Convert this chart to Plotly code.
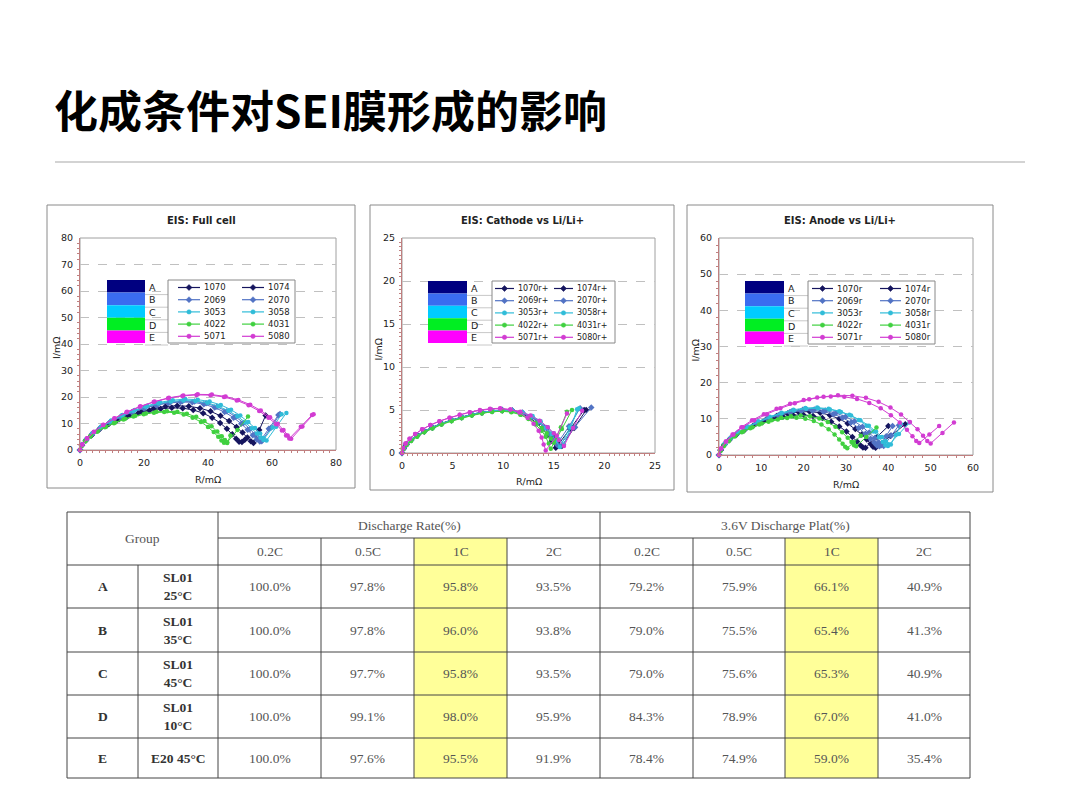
import plotly.graph_objects as go

W, H = 1080, 809


def px(x):
    return x / W


def py(y):
    return 1 - y / H


TITLE = "化成条件对SEI膜形成的影响"

# ---- EIS data ----
NAMES = ["1070", "1074", "2069", "2070", "3053", "3058", "4022", "4031", "5071", "5080"]
GROUP_OF = ["A", "A", "B", "B", "C", "C", "D", "D", "E", "E"]
GROUPS = ["A", "B", "C", "D", "E"]

FULL_R = {
    "1070": [0, 0.6, 1.8, 3.5, 5.8, 8.5, 11.5, 14.8, 18.2, 21.7, 25.2, 28.7, 32.1, 35.4, 38.5, 41.3, 43.8, 45.9, 47.6, 48.8, 49.7, 50.6, 51.5],
    "1074": [0, 0.6, 1.9, 3.7, 6.1, 9.0, 12.2, 15.7, 19.3, 23.0, 26.7, 30.4, 34.0, 37.5, 40.8, 43.9, 46.6, 48.9, 50.8, 52.3, 53.4, 54.2, 56.0, 58.0],
    "2069": [0, 0.6, 1.9, 3.8, 6.3, 9.3, 12.6, 16.2, 20.0, 23.8, 27.6, 31.4, 35.1, 38.7, 42.1, 45.2, 48.0, 50.4, 52.4, 54.0, 55.2, 56.2, 59.0, 62.0],
    "2070": [0, 0.6, 2.0, 3.9, 6.4, 9.5, 12.9, 16.6, 20.4, 24.3, 28.2, 32.0, 35.8, 39.4, 42.8, 45.9, 48.7, 51.1, 53.1, 54.7, 55.9, 56.8, 59.6, 62.5],
    "3053": [0, 0.6, 2.0, 4.0, 6.6, 9.8, 13.3, 17.1, 21.0, 25.0, 29.0, 32.9, 36.8, 40.5, 44.0, 47.2, 50.1, 52.6, 54.7, 56.3, 57.4, 58.3, 61.3, 64.5],
    "3058": [0, 0.6, 2.0, 3.9, 6.5, 9.6, 13.0, 16.7, 20.6, 24.5, 28.4, 32.3, 36.1, 39.8, 43.2, 46.4, 49.2, 51.7, 53.7, 55.3, 56.4, 57.3, 60.2, 63.0],
    "4022": [0, 0.5, 1.6, 3.2, 5.3, 7.8, 10.6, 13.6, 16.7, 19.9, 23.1, 26.3, 29.4, 32.4, 35.2, 37.8, 40.0, 41.8, 43.2, 44.2, 45.0, 46.0, 47.0],
    "4031": [0, 0.5, 1.7, 3.3, 5.5, 8.1, 11.0, 14.1, 17.3, 20.6, 23.9, 27.2, 30.4, 33.4, 36.3, 38.9, 41.1, 42.9, 44.3, 45.3, 46.0, 49.2, 52.5],
    "5071": [0, 0.7, 2.2, 4.4, 7.3, 10.8, 14.7, 18.9, 23.3, 27.8, 32.3, 36.8, 41.2, 45.5, 49.5, 53.2, 56.5, 59.4, 61.8, 63.6, 64.9, 66.0, 69.5, 73.0],
    "5080": [0, 0.7, 2.2, 4.3, 7.2, 10.7, 14.5, 18.7, 23.0, 27.5, 32.0, 36.4, 40.8, 45.0, 49.0, 52.7, 56.0, 58.9, 61.3, 63.1, 64.4, 65.4, 69.0, 72.5],
}
FULL_I = {
    "1070": [0, 1.8, 3.6, 5.5, 7.5, 9.4, 11.1, 12.6, 13.9, 14.9, 15.6, 15.9, 15.8, 15.1, 13.9, 12.2, 10.2, 8.0, 5.9, 4.2, 3.1, 3.0, 3.9],
    "1074": [0, 1.8, 3.7, 5.7, 7.8, 9.8, 11.6, 13.2, 14.6, 15.7, 16.4, 16.7, 16.5, 15.8, 14.6, 12.9, 10.9, 8.7, 6.6, 4.7, 3.3, 2.6, 7.5, 13.0],
    "2069": [0, 1.9, 3.9, 6.0, 8.2, 10.4, 12.4, 14.2, 15.7, 16.9, 17.7, 18.1, 18.0, 17.3, 16.0, 14.3, 12.2, 9.9, 7.6, 5.6, 4.0, 3.2, 8.0, 13.2],
    "2070": [0, 1.9, 4.0, 6.2, 8.5, 10.7, 12.7, 14.5, 16.0, 17.2, 18.0, 18.4, 18.3, 17.6, 16.3, 14.6, 12.5, 10.2, 7.9, 5.8, 4.2, 3.3, 8.3, 13.6],
    "3053": [0, 2.0, 4.1, 6.4, 8.8, 11.1, 13.2, 15.1, 16.7, 18.0, 18.8, 19.2, 19.0, 18.3, 17.0, 15.2, 13.0, 10.6, 8.3, 6.2, 4.5, 3.6, 8.8, 14.0],
    "3058": [0, 1.9, 4.0, 6.3, 8.6, 10.8, 12.9, 14.7, 16.3, 17.5, 18.3, 18.7, 18.5, 17.8, 16.5, 14.8, 12.7, 10.4, 8.2, 6.2, 4.6, 3.8, 8.5, 13.5],
    "4022": [0, 1.6, 3.3, 5.1, 6.9, 8.6, 10.1, 11.5, 12.6, 13.5, 14.1, 14.3, 14.1, 13.4, 12.2, 10.6, 8.7, 6.8, 5.0, 3.6, 2.7, 2.6, 5.5],
    "4031": [0, 1.6, 3.4, 5.2, 7.1, 8.8, 10.4, 11.8, 12.9, 13.8, 14.4, 14.6, 14.4, 13.7, 12.5, 10.9, 9.0, 7.0, 5.2, 3.8, 2.9, 7.5, 12.6],
    "5071": [0, 2.1, 4.4, 6.9, 9.5, 12.0, 14.4, 16.5, 18.3, 19.7, 20.6, 21.0, 20.9, 20.2, 18.9, 17.1, 14.9, 12.4, 9.9, 7.5, 5.5, 4.2, 8.9, 13.5],
    "5080": [0, 2.1, 4.3, 6.8, 9.4, 11.9, 14.2, 16.3, 18.1, 19.5, 20.4, 20.8, 20.7, 20.0, 18.7, 16.9, 14.7, 12.2, 9.7, 7.4, 5.5, 4.3, 8.8, 13.2],
}

CATH_R = {
    "1070": [0, 0.15, 0.45, 0.9, 1.5, 2.2, 3.0, 3.9, 4.9, 5.9, 6.9, 7.9, 8.9, 9.9, 10.9, 11.8, 12.6, 13.3, 13.9, 14.4, 14.8, 15.2, 16.6, 18.0],
    "1074": [0, 0.15, 0.45, 0.9, 1.5, 2.2, 3.0, 3.9, 4.9, 5.9, 6.9, 7.9, 8.9, 9.9, 10.9, 11.9, 12.8, 13.6, 14.3, 14.9, 15.4, 15.8, 17.0, 18.2],
    "2069": [0, 0.15, 0.45, 0.9, 1.5, 2.2, 3.0, 3.9, 4.9, 5.9, 6.9, 7.9, 8.9, 9.9, 10.9, 11.9, 12.8, 13.5, 14.1, 14.6, 15.1, 15.5, 17.1, 18.7],
    "2070": [0, 0.15, 0.45, 0.9, 1.5, 2.2, 3.0, 3.9, 4.9, 5.9, 6.9, 7.9, 8.9, 9.9, 10.9, 11.8, 12.7, 13.4, 14.0, 14.5, 14.9, 15.3, 16.5, 17.6],
    "3053": [0, 0.15, 0.45, 0.9, 1.5, 2.2, 3.0, 3.9, 4.9, 5.9, 6.9, 7.9, 8.9, 9.9, 10.9, 11.9, 12.8, 13.6, 14.2, 14.8, 15.2, 15.6, 16.6, 17.5],
    "3058": [0, 0.15, 0.45, 0.9, 1.5, 2.2, 3.0, 3.9, 4.9, 5.9, 6.9, 7.9, 8.9, 9.9, 10.9, 11.9, 12.9, 13.7, 14.4, 15.0, 15.5, 16.0, 16.7, 17.3],
    "4022": [0, 0.15, 0.45, 0.9, 1.5, 2.2, 3.0, 3.9, 4.9, 5.9, 6.9, 7.9, 8.9, 9.9, 10.8, 11.7, 12.5, 13.2, 13.8, 14.2, 14.5, 14.7, 15.8, 16.8],
    "4031": [0, 0.15, 0.45, 0.9, 1.5, 2.2, 3.0, 3.9, 4.9, 5.9, 6.9, 7.9, 8.9, 9.9, 10.8, 11.7, 12.5, 13.2, 13.8, 14.3, 14.7, 15.0, 15.7, 16.3],
    "5071": [0, 0.1, 0.35, 0.75, 1.3, 2.0, 2.8, 3.7, 4.7, 5.7, 6.7, 7.7, 8.7, 9.7, 10.7, 11.6, 12.4, 13.0, 13.5, 13.8, 14.0, 14.2, 15.3, 16.3],
    "5080": [0, 0.1, 0.35, 0.75, 1.3, 2.0, 2.8, 3.7, 4.7, 5.7, 6.7, 7.7, 8.7, 9.7, 10.7, 11.7, 12.7, 13.6, 14.4, 15.0, 15.5, 16.0, 16.9, 17.8],
}
CATH_I = {
    "1070": [0, 0.55, 1.05, 1.55, 2.05, 2.55, 3.0, 3.45, 3.85, 4.2, 4.5, 4.75, 4.9, 5.0, 4.9, 4.6, 4.1, 3.5, 2.8, 2.1, 1.4, 0.6, 2.8, 5.0],
    "1074": [0, 0.5, 1.0, 1.5, 2.0, 2.5, 2.95, 3.4, 3.8, 4.15, 4.45, 4.7, 4.85, 4.95, 4.9, 4.65, 4.2, 3.6, 2.9, 2.1, 1.4, 0.8, 2.9, 5.0],
    "2069": [0, 0.5, 1.0, 1.5, 2.0, 2.5, 2.95, 3.4, 3.8, 4.15, 4.5, 4.75, 4.9, 5.0, 4.95, 4.7, 4.2, 3.6, 2.9, 2.2, 1.4, 0.8, 3.0, 5.3],
    "2070": [0, 0.5, 1.0, 1.5, 2.0, 2.5, 3.0, 3.4, 3.8, 4.15, 4.45, 4.7, 4.9, 5.0, 4.9, 4.65, 4.2, 3.6, 3.0, 2.3, 1.6, 1.0, 3.1, 5.2],
    "3053": [0, 0.5, 1.0, 1.5, 2.0, 2.5, 2.95, 3.4, 3.8, 4.15, 4.45, 4.7, 4.9, 5.0, 4.95, 4.7, 4.25, 3.65, 2.95, 2.2, 1.4, 0.7, 3.0, 5.2],
    "3058": [0, 0.5, 1.0, 1.5, 2.0, 2.5, 2.95, 3.4, 3.8, 4.15, 4.45, 4.7, 4.85, 4.95, 4.9, 4.7, 4.3, 3.7, 3.0, 2.3, 1.6, 1.0, 3.0, 5.1],
    "4022": [0, 0.5, 0.95, 1.4, 1.9, 2.4, 2.85, 3.3, 3.7, 4.05, 4.35, 4.6, 4.8, 4.85, 4.75, 4.45, 3.95, 3.3, 2.6, 1.9, 1.1, 0.5, 2.8, 5.0],
    "4031": [0, 0.5, 0.95, 1.45, 1.95, 2.45, 2.9, 3.35, 3.75, 4.1, 4.4, 4.65, 4.8, 4.9, 4.8, 4.5, 4.05, 3.5, 2.9, 2.3, 1.7, 1.2, 3.0, 4.8],
    "5071": [0, 0.55, 1.1, 1.65, 2.2, 2.75, 3.25, 3.7, 4.1, 4.45, 4.75, 5.0, 5.15, 5.2, 5.05, 4.7, 4.1, 3.4, 2.6, 1.8, 1.0, 0.3, 2.0, 4.6],
    "5080": [0, 0.55, 1.1, 1.65, 2.2, 2.75, 3.25, 3.7, 4.1, 4.45, 4.75, 4.95, 5.1, 5.15, 5.05, 4.8, 4.35, 3.75, 3.0, 2.3, 1.5, 0.8, 2.9, 4.9],
}

ANODE_R = {
    "1070": [0, 0.4, 1.2, 2.4, 4.0, 5.9, 8.0, 10.3, 12.7, 15.1, 17.5, 19.9, 22.2, 24.4, 26.5, 28.4, 30.1, 31.5, 32.6, 33.4, 34.0, 34.6, 37.3, 40.0],
    "1074": [0, 0.4, 1.3, 2.6, 4.3, 6.3, 8.6, 11.1, 13.6, 16.2, 18.8, 21.4, 23.9, 26.2, 28.4, 30.4, 32.2, 33.7, 34.9, 35.8, 36.4, 37.0, 40.5, 44.0],
    "2069": [0, 0.4, 1.3, 2.6, 4.4, 6.5, 8.9, 11.4, 14.0, 16.7, 19.4, 22.0, 24.6, 27.0, 29.2, 31.2, 33.0, 34.6, 35.8, 36.7, 37.3, 37.9, 39.5, 41.0],
    "2070": [0, 0.4, 1.3, 2.7, 4.5, 6.7, 9.1, 11.7, 14.4, 17.1, 19.8, 22.5, 25.1, 27.6, 29.9, 32.0, 33.9, 35.5, 36.8, 37.7, 38.3, 38.9, 40.7, 42.5],
    "3053": [0, 0.4, 1.4, 2.8, 4.6, 6.8, 9.3, 12.0, 14.8, 17.6, 20.4, 23.2, 25.9, 28.4, 30.8, 33.0, 34.9, 36.5, 37.8, 38.7, 39.3, 39.9, 42.5, 45.0],
    "3058": [0, 0.4, 1.4, 2.8, 4.6, 6.8, 9.3, 12.0, 14.8, 17.7, 20.6, 23.4, 26.2, 28.8, 31.2, 33.4, 35.4, 37.1, 38.5, 39.4, 40.0, 40.6, 41.8, 43.0],
    "4022": [0, 0.4, 1.1, 2.2, 3.7, 5.4, 7.4, 9.5, 11.7, 13.9, 16.1, 18.3, 20.4, 22.4, 24.2, 25.9, 27.3, 28.4, 29.2, 29.8, 30.3, 31.8, 33.5],
    "4031": [0, 0.4, 1.2, 2.4, 3.9, 5.8, 7.9, 10.1, 12.4, 14.7, 17.0, 19.3, 21.5, 23.7, 25.7, 27.5, 29.1, 30.4, 31.3, 31.9, 32.4, 34.8, 37.2],
    "5071": [0, 0.5, 1.6, 3.2, 5.3, 7.8, 10.6, 13.6, 16.8, 20.0, 23.2, 26.4, 29.6, 32.6, 35.5, 38.2, 40.6, 42.7, 44.4, 45.7, 46.6, 47.3, 49.7, 52.0],
    "5080": [0, 0.5, 1.7, 3.4, 5.6, 8.3, 11.3, 14.5, 17.9, 21.3, 24.7, 28.1, 31.5, 34.7, 37.7, 40.5, 43.0, 45.1, 46.9, 48.2, 49.2, 50.0, 52.8, 55.5],
}
ANODE_I = {
    "1070": [0, 1.3, 2.7, 4.1, 5.5, 6.8, 8.0, 9.1, 10.0, 10.6, 11.0, 11.1, 10.8, 10.2, 9.2, 7.9, 6.5, 5.0, 3.7, 2.7, 2.1, 2.0, 5.0, 8.0],
    "1074": [0, 1.4, 2.9, 4.4, 5.9, 7.3, 8.6, 9.8, 10.8, 11.5, 11.9, 12.0, 11.7, 11.0, 10.0, 8.7, 7.2, 5.7, 4.3, 3.1, 2.3, 2.0, 5.3, 8.5],
    "2069": [0, 1.4, 3.0, 4.5, 6.0, 7.5, 8.8, 10.0, 11.0, 11.8, 12.2, 12.3, 12.0, 11.3, 10.3, 9.0, 7.5, 5.9, 4.5, 3.4, 2.6, 2.4, 5.2, 8.0],
    "2070": [0, 1.4, 3.0, 4.6, 6.2, 7.7, 9.0, 10.2, 11.2, 12.0, 12.5, 12.6, 12.3, 11.6, 10.6, 9.3, 7.8, 6.2, 4.7, 3.5, 2.7, 2.5, 5.4, 8.2],
    "3053": [0, 1.5, 3.1, 4.7, 6.3, 7.9, 9.3, 10.6, 11.7, 12.5, 13.0, 13.1, 12.8, 12.1, 11.1, 9.7, 8.1, 6.5, 4.9, 3.6, 2.7, 2.5, 5.8, 9.0],
    "3058": [0, 1.4, 3.0, 4.6, 6.2, 7.7, 9.1, 10.4, 11.5, 12.3, 12.8, 12.9, 12.6, 11.9, 10.9, 9.6, 8.1, 6.5, 5.0, 3.8, 3.0, 2.9, 5.6, 8.5],
    "4022": [0, 1.2, 2.5, 3.8, 5.1, 6.3, 7.4, 8.4, 9.2, 9.8, 10.2, 10.3, 10.0, 9.4, 8.4, 7.1, 5.7, 4.3, 3.1, 2.3, 1.9, 3.5, 5.3],
    "4031": [0, 1.3, 2.6, 4.0, 5.3, 6.6, 7.7, 8.7, 9.6, 10.3, 10.7, 10.9, 10.7, 10.1, 9.1, 7.8, 6.3, 4.8, 3.6, 2.7, 2.4, 5.0, 7.6],
    "5071": [0, 1.8, 3.7, 5.7, 7.7, 9.6, 11.3, 12.8, 14.2, 15.2, 15.9, 16.2, 16.1, 15.5, 14.4, 12.9, 11.0, 9.0, 7.0, 5.2, 3.9, 3.3, 5.7, 8.0],
    "5080": [0, 1.8, 3.7, 5.7, 7.7, 9.6, 11.3, 12.9, 14.3, 15.4, 16.1, 16.5, 16.4, 15.8, 14.7, 13.1, 11.2, 9.1, 7.1, 5.3, 3.9, 3.2, 6.1, 9.0],
}

CHART_TITLES = ["EIS: Full cell", "EIS: Cathode vs Li/Li+", "EIS: Anode vs Li/Li+"]
SUFFIXES = ["", "r+", "r"]
CHART_DATA = [(FULL_R, FULL_I), (CATH_R, CATH_I), (ANODE_R, ANODE_I)]

# ---- table data ----
ROW_LABELS = ["A", "B", "C", "D", "E"]
CONDITIONS = ["SL01<br>25°C", "SL01<br>35°C", "SL01<br>45°C", "SL01<br>10°C", "E20 45°C"]
RATES = ["0.2C", "0.5C", "1C", "2C"]
DISCHARGE_RATE = [
    [100.0, 97.8, 95.8, 93.5],
    [100.0, 97.8, 96.0, 93.8],
    [100.0, 97.7, 95.8, 93.5],
    [100.0, 99.1, 98.0, 95.9],
    [100.0, 97.6, 95.5, 91.9],
]
DISCHARGE_PLAT = [
    [79.2, 75.9, 66.1, 40.9],
    [79.0, 75.5, 65.4, 41.3],
    [79.0, 75.6, 65.3, 40.9],
    [84.3, 78.9, 67.0, 41.0],
    [78.4, 74.9, 59.0, 35.4],
]

# ---- styling ----
LINE_COLOR = {"A": "#15155e", "B": "#5273c4", "C": "#30bcd8", "D": "#40d040", "E": "#d23cd2"}
BLOCK_COLOR = {"A": "#000080", "B": "#3a6cf0", "C": "#00ccff", "D": "#00ee22", "E": "#ff00ff"}
SYMBOL = {"A": "diamond", "B": "diamond", "C": "circle", "D": "circle", "E": "circle"}
FONT = "DejaVu Sans"
SERIF = "Liberation Serif"

# pixel boxes: panel frame, plot area, legend box, colour blocks, legend column starts
PANELS = [
    dict(frame=(47, 205, 355, 488), plot=(80, 238, 336, 450), rng=80, xdt=20, ydt=10, minor=2,
         leg=(168, 280, 295, 343), blocks=(107, 145), cols=(178, 242), ll=22),
    dict(frame=(370, 205, 674, 490), plot=(402, 238, 655, 453), rng=25, xdt=5, ydt=5, minor=0.5,
         leg=(492, 281, 615, 343), blocks=(428, 467), cols=(495, 554), ll=19),
    dict(frame=(687, 205, 993, 492), plot=(719, 238, 973, 455), rng=60, xdt=10, ydt=10, minor=2,
         leg=(808, 281, 935, 344), blocks=(745, 784), cols=(812, 880), ll=21),
]


def note(text, x, y, size, family=FONT, color="#222", xanchor="center", **kw):
    return dict(text=text, x=px(x), y=py(y), xref="paper", yref="paper", showarrow=False,
                xanchor=xanchor, yanchor="middle", font=dict(family=family, size=size, color=color), **kw)


fig = go.Figure()
shapes = []
annotations = []

for k, p in enumerate(PANELS):
    ax = "" if k == 0 else str(k + 1)
    rdict, idict = CHART_DATA[k]
    for name, g in zip(NAMES, GROUP_OF):
        fig.add_trace(go.Scatter(
            x=rdict[name], y=idict[name], mode="lines+markers",
            name=name + SUFFIXES[k], showlegend=False, cliponaxis=False,
            xaxis="x" + ax, yaxis="y" + ax,
            line=dict(color=LINE_COLOR[g], width=1),
            marker=dict(symbol=SYMBOL[g], size=5 if SYMBOL[g] == "diamond" else 4.5,
                        color=LINE_COLOR[g]),
        ))
    l, t, r, b = p["plot"]
    axis_common = dict(
        range=[0, p["rng"]], showline=True, linecolor="#c08080",
        linewidth=1, zeroline=False, ticks="", ticklabelstandoff=4, automargin=False,
        tickfont=dict(family=FONT, size=9.5, color="#222"),
        minor=dict(dtick=p["minor"], ticks="outside", ticklen=2, tickcolor="#c08080"),
        fixedrange=True,
    )
    fig.update_layout(**{
        "xaxis" + ax: dict(axis_common, dtick=p["xdt"], domain=[px(l), px(r)], anchor="y" + ax,
                           showgrid=False),
        "yaxis" + ax: dict(axis_common, dtick=p["ydt"], domain=[py(b), py(t)], anchor="x" + ax,
                           showgrid=True, gridcolor="#c0c0c0", griddash="dash", gridwidth=1),
    })
    # plot border and panel frame
    shapes.append(dict(type="rect", xref="paper", yref="paper", x0=px(l), x1=px(r), y0=py(b), y1=py(t),
                       line=dict(color="#a0a0a0", width=1), layer="below"))
    fl, ft, fr, fb = p["frame"]
    shapes.append(dict(type="rect", xref="paper", yref="paper", x0=px(fl), x1=px(fr), y0=py(fb), y1=py(ft),
                       line=dict(color="#8a8a8a", width=1)))
    # titles
    annotations.append(note("<b>" + CHART_TITLES[k] + "</b>", (fl + fr) / 2, ft + 15, 10))
    annotations.append(note("R/mΩ", (l + r) / 2, b + 29, 9.5))
    annotations.append(note("I/mΩ", l - 24, (t + b) / 2 + 4, 9.5, textangle=-90))
    # colour blocks A-E
    bl, br = p["blocks"]
    gl, gt, gr, gb = p["leg"]
    row_h = (gb - gt) / len(GROUPS)
    for j, g in enumerate(GROUPS):
        y0 = gt + j * row_h
        shapes.append(dict(type="rect", xref="paper", yref="paper", x0=px(bl), x1=px(br),
                           y0=py(y0 + row_h), y1=py(y0), fillcolor=BLOCK_COLOR[g], line=dict(width=0)))
        shapes.append(dict(type="line", xref="paper", yref="paper", x0=px(br), x1=px(gl),
                           y0=py(y0 + row_h + 2), y1=py(y0 + row_h + 2), line=dict(color="#c8c8c8", width=1)))
        annotations.append(note(g, br + 2, y0 + row_h / 2 + 1, 9.5, xanchor="left"))
    # legend box (two columns)
    shapes.append(dict(type="rect", xref="paper", yref="paper", x0=px(gl), x1=px(gr), y0=py(gb), y1=py(gt),
                       fillcolor="white", line=dict(color="#888", width=1)))
    for i, (name, g) in enumerate(zip(NAMES, GROUP_OF)):
        col, row = i % 2, i // 2
        x0 = p["cols"][col]
        yc = gt + 7.5 + row * 12.2
        c = LINE_COLOR[g]
        shapes.append(dict(type="line", xref="paper", yref="paper", x0=px(x0), x1=px(x0 + p["ll"]),
                           y0=py(yc), y1=py(yc), line=dict(color=c, width=1.2)))
        cx = x0 + p["ll"] / 2
        if SYMBOL[g] == "diamond":
            s = 3
            path = (f"M {px(cx)},{py(yc - s)} L {px(cx + s)},{py(yc)} "
                    f"L {px(cx)},{py(yc + s)} L {px(cx - s)},{py(yc)} Z")
            shapes.append(dict(type="path", xref="paper", yref="paper", path=path,
                               fillcolor=c, line=dict(color=c, width=0.5)))
        else:
            s = 2.2
            shapes.append(dict(type="circle", xref="paper", yref="paper", x0=px(cx - s), x1=px(cx + s),
                               y0=py(yc + s), y1=py(yc - s), fillcolor=c, line=dict(color=c, width=0.5)))
        annotations.append(note(name + SUFFIXES[k], x0 + p["ll"] + 2, yc, 8 if k == 1 else 8.5,
                                xanchor="left"))

# ---- slide title and rule ----
annotations.append(note("<b>" + TITLE + "</b>", 52, 109, 44, family="Noto Sans CJK SC", color="#000",
                        xanchor="left"))
shapes.append(dict(type="line", xref="paper", yref="paper", x0=px(55), x1=px(1025), y0=py(162), y1=py(162),
                   line=dict(color="#c4c4c4", width=1.5)))

# ---- table ----
TCOLS = [67, 138, 218, 321, 414, 507, 600, 693, 785, 878, 970]
TROWS = [512, 538, 565, 608, 652, 695, 738, 778]
TLINE = dict(color="#444", width=1)
YELLOW = "#ffff99"


def hline(y, xa, xb):
    shapes.append(dict(type="line", xref="paper", yref="paper", x0=px(xa), x1=px(xb), y0=py(y), y1=py(y), line=TLINE))


def vline(x, ya, yb):
    shapes.append(dict(type="line", xref="paper", yref="paper", x0=px(x), x1=px(x), y0=py(ya), y1=py(yb), line=TLINE))


def cell_text(text, xc, yc, bold=False, color="#555", size=13.5):
    annotations.append(note(("<b>%s</b>" % text) if bold else text, xc, yc, size, family=SERIF, color=color))


# highlighted 1C columns
for ci in (4, 8):
    shapes.append(dict(type="rect", xref="paper", yref="paper", x0=px(TCOLS[ci]), x1=px(TCOLS[ci + 1]),
                       y0=py(TROWS[-1]), y1=py(TROWS[1]), fillcolor=YELLOW, line=dict(width=0), layer="below"))

hline(TROWS[0], TCOLS[0], TCOLS[-1])
hline(TROWS[1], TCOLS[2], TCOLS[-1])
for y in TROWS[2:]:
    hline(y, TCOLS[0], TCOLS[-1])
for x in (TCOLS[0], TCOLS[2], TCOLS[6], TCOLS[-1]):
    vline(x, TROWS[0], TROWS[-1])
vline(TCOLS[1], TROWS[2], TROWS[-1])
for x in TCOLS[3:6] + TCOLS[7:10]:
    vline(x, TROWS[1], TROWS[-1])

cell_text("Group", (TCOLS[0] + TCOLS[2]) / 2, (TROWS[0] + TROWS[2]) / 2)
cell_text("Discharge Rate(%)", (TCOLS[2] + TCOLS[6]) / 2, (TROWS[0] + TROWS[1]) / 2)
cell_text("3.6V Discharge Plat(%)", (TCOLS[6] + TCOLS[10]) / 2, (TROWS[0] + TROWS[1]) / 2)
for j, rate in enumerate(RATES):
    for base in (2, 6):
        cell_text(rate, (TCOLS[base + j] + TCOLS[base + j + 1]) / 2, (TROWS[1] + TROWS[2]) / 2)

for i, lab in enumerate(ROW_LABELS):
    yc = (TROWS[i + 2] + TROWS[i + 3]) / 2
    cell_text(lab, (TCOLS[0] + TCOLS[1]) / 2, yc, bold=True, color="#333")
    cell_text(CONDITIONS[i], (TCOLS[1] + TCOLS[2]) / 2, yc, bold=True, color="#333")
    for j in range(4):
        cell_text("%.1f%%" % DISCHARGE_RATE[i][j], (TCOLS[2 + j] + TCOLS[3 + j]) / 2, yc)
        cell_text("%.1f%%" % DISCHARGE_PLAT[i][j], (TCOLS[6 + j] + TCOLS[7 + j]) / 2, yc)

fig.update_layout(
    width=W, height=H, margin=dict(l=0, r=0, t=0, b=0, pad=0, autoexpand=False),
    paper_bgcolor="white", plot_bgcolor="white",
    showlegend=False, shapes=shapes, annotations=annotations,
)

fig.write_html("out.html", config={"displayModeBar": False},
               post_script="document.body.style.margin='0px';"
                           "document.body.style.overflow='hidden';")
